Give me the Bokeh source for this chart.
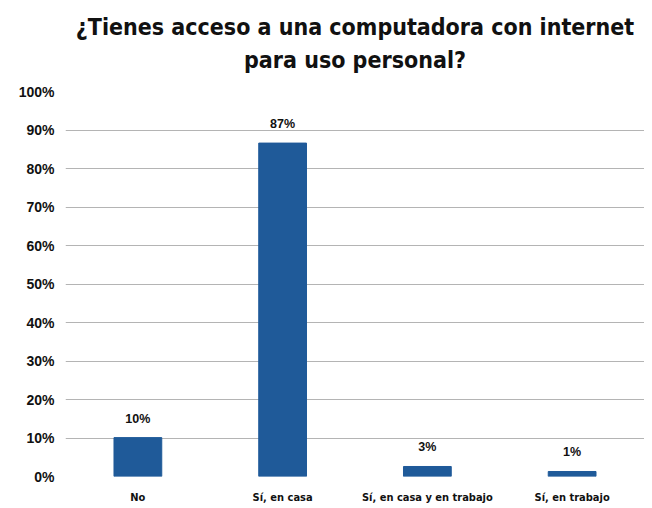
from bokeh.plotting import figure
from bokeh.models import ColumnDataSource, FixedTicker, Title
from bokeh.core.properties import value
from bokeh.embed import file_html
from bokeh.resources import INLINE

categories = ["No", "Sí, en casa", "Sí, en casa y en trabajo", "Sí, en trabajo"]
values = [10.1, 86.6, 2.6, 1.3]
value_labels = ["10%", "87%", "3%", "1%"]
y_ticks = [0, 10, 20, 30, 40, 50, 60, 70, 80, 90, 100]
y_tick_labels = ["0%", "10%", "20%", "30%", "40%", "50%", "60%", "70%", "80%", "90%", "100%"]
title_lines = ["¿Tienes acceso a una computadora con internet", "para uso personal?"]

COND = "'DejaVu Sans Condensed', 'Liberation Sans Narrow', 'Liberation Sans', sans-serif"

src = ColumnDataSource(dict(cat=categories, val=values, lab=value_labels))

p = figure(x_range=categories, y_range=(0, 100), width=644, height=506,
           output_backend="svg", toolbar_location=None,
           min_border_left=65, min_border_right=0, min_border_top=91, min_border_bottom=29)

p.vbar(x="cat", top="val", width=0.33, source=src, color="#1F5A99")
p.text(x="cat", y="val", text="lab", source=src, text_align="center",
       text_baseline="bottom", y_offset=-12, text_font=value("Liberation Sans"),
       text_font_style="bold", text_font_size="12.5px", text_color="#111111")

spacer = Title(text=" ", align="center", text_font_size="15px", standoff=0)
p.add_layout(spacer, "above")
t2 = Title(text=title_lines[1], align="center", text_font=COND,
           text_font_style="bold", text_font_size="23px", text_color="#111111",
           standoff=0)
p.add_layout(t2, "above")
gap = Title(text=" ", align="center", text_font_size="3px", standoff=0)
p.add_layout(gap, "above")
t1 = Title(text=title_lines[0], align="center", text_font=COND,
           text_font_style="bold", text_font_size="23px", text_color="#111111",
           standoff=0)
p.add_layout(t1, "above")

p.yaxis.ticker = FixedTicker(ticks=y_ticks)
p.yaxis.major_label_overrides = {t: l for t, l in zip(y_ticks, y_tick_labels)}
p.yaxis.major_label_text_font = "Liberation Sans"
p.yaxis.major_label_text_font_style = "bold"
p.yaxis.major_label_text_font_size = "14px"
p.yaxis.major_label_text_color = "#111111"
p.yaxis.major_label_standoff = 11

p.xaxis.major_label_text_font = COND
p.xaxis.major_label_text_font_style = "bold"
p.xaxis.major_label_text_font_size = "11px"
p.xaxis.major_label_text_color = "#111111"
p.xaxis.major_label_standoff = 14

for ax in [p.xaxis[0], p.yaxis[0]]:
    ax.axis_line_color = None
    ax.major_tick_line_color = None
    ax.minor_tick_line_color = None
    ax.major_tick_out = 0
    ax.major_tick_in = 0
    ax.minor_tick_out = 0
    ax.minor_tick_in = 0

p.xgrid.grid_line_color = None
p.ygrid.grid_line_color = "#B4B4B4"
p.ygrid.grid_line_width = 1
p.outline_line_color = None
p.background_fill_color = "white"
p.border_fill_color = "white"

open("out.html", "w").write(file_html(p, INLINE))
